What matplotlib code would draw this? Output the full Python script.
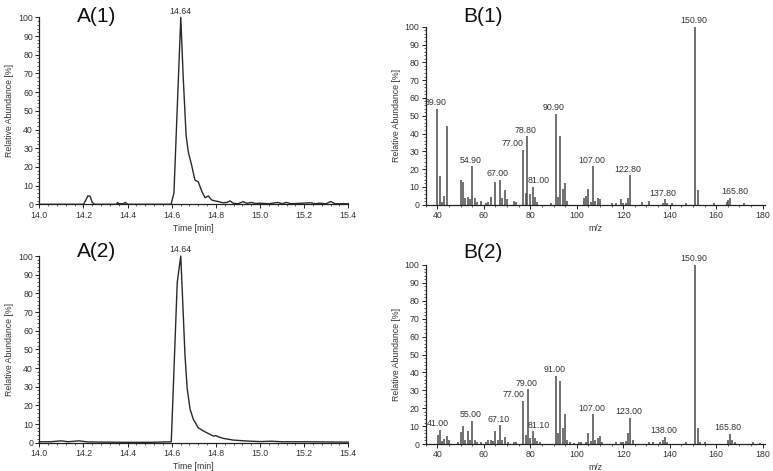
import matplotlib
matplotlib.use('Agg')
import matplotlib.pyplot as plt
from matplotlib.ticker import MultipleLocator

plt.rcParams['font.family'] = ['Liberation Sans', 'DejaVu Sans']

# ---------------- data ----------------
a1_time = [14.00, 14.20, 14.21, 14.22, 14.23, 14.24, 14.25, 14.35, 14.355, 14.36, 14.38, 14.39, 14.40,
           14.597, 14.61, 14.641, 14.652, 14.665, 14.675, 14.69, 14.705, 14.72, 14.736, 14.751, 14.766,
           14.781, 14.796, 14.81, 14.833, 14.85, 14.864, 14.88, 14.90, 14.924, 14.94, 14.96, 14.98, 15.00,
           15.04, 15.08, 15.10, 15.12, 15.14, 15.23, 15.25, 15.27, 15.30, 15.32, 15.34, 15.40]
a1_abund = [0, 0, 2, 4.5, 4.3, 1, 0, 0, 1, 0.3, 0.3, 1, 0,
            0, 6, 100, 68, 37, 28, 21, 13, 12, 7, 3.5, 4.5,
            2.3, 1.8, 1.5, 0.8, 1, 1.8, 0.5, 0.3, 1.4, 0.5, 1, 0.4, 0.6,
            0.3, 1, 0.3, 1, 0.3, 0.8, 0.3, 0.6, 0.3, 1.5, 0.3, 0.3]

a2_time = [14.00, 14.05, 14.10, 14.13, 14.18, 14.22, 14.30, 14.40, 14.50, 14.598, 14.625, 14.641,
           14.66, 14.67, 14.683, 14.698, 14.72, 14.743, 14.773, 14.79, 14.80, 14.815, 14.834, 14.879,
           14.94, 15.00, 15.05, 15.10, 15.20, 15.30, 15.40]
a2_abund = [0.5, 0.5, 1, 0.5, 1, 0.4, 0.3, 0.2, 0.2, 0.5, 86, 100,
            47, 29, 18, 12.5, 8, 6.3, 4.5, 3.5, 3.8, 3.0, 2.3, 1.4,
            0.9, 0.6, 0.8, 0.5, 0.5, 0.4, 0.3]

b1_mz = [39.9, 41.0, 42.0, 43.0, 44.0, 50.0, 51.0, 52.0, 53.0, 54.0, 54.9, 56.0, 57.0, 59.0, 61.0,
         62.0, 63.0, 65.0, 67.0, 68.0, 69.0, 70.0, 73.0, 74.0, 77.0, 78.0, 78.8, 80.0, 81.0, 82.0,
         83.0, 89.0, 90.9, 92.0, 92.9, 94.0, 95.0, 96.0, 103.0, 104.0, 105.0, 106.0, 107.0, 108.0,
         109.0, 110.0, 115.0, 117.0, 119.0, 120.0, 121.0, 122.0, 122.8, 128.0, 131.0, 137.0, 137.8,
         139.0, 141.0, 147.0, 150.9, 152.0, 159.0, 164.8, 165.2, 165.8, 172.0]
b1_int = [54, 16, 1.5, 5, 44, 14, 12.5, 4, 4.5, 3, 21.5, 4, 1.5, 2, 1,
          1.5, 4.5, 12.5, 14, 4, 8, 3, 2, 1.5, 31, 6.5, 38.5, 6, 10, 4.5,
          1.5, 1, 51, 4.5, 38.5, 9, 12, 2, 3.5, 5, 9, 1.5, 21.5, 2,
          3.5, 3, 1, 1, 3, 1, 1, 4, 16.5, 1.5, 2, 1, 3,
          1, 1, 1, 100, 8, 1, 1.5, 2.5, 4, 1]
b1_labels = ['39.90', '54.90', '67.00', '77.00', '78.80', '81.00', '90.90', '107.00',
             '122.80', '137.80', '150.90', '165.80']
b1_label_mz = [39.9, 54.9, 67.0, 77.0, 78.8, 81.0, 90.9, 107.0, 122.8, 137.8, 150.9, 165.8]

b2_mz = [40.1, 41.0, 42.0, 43.0, 44.0, 45.0, 49.0, 50.0, 51.0, 52.0, 53.0, 54.0, 55.0, 56.0, 57.0,
         59.0, 61.0, 62.0, 63.0, 64.0, 65.0, 66.0, 67.1, 68.0, 69.0, 70.3, 73.0, 74.0, 77.0, 78.0,
         79.0, 80.0, 81.1, 82.0, 83.0, 84.0, 91.0, 92.0, 93.0, 94.0, 95.0, 96.0, 97.0, 99.0, 101.0,
         102.0, 104.0, 105.0, 106.0, 107.0, 108.0, 109.0, 110.0, 111.0, 117.0, 119.0, 120.0, 121.0,
         122.0, 123.0, 124.0, 131.0, 133.0, 136.0, 137.0, 138.0, 139.0, 147.0, 150.9, 152.0, 153.0,
         155.0, 165.0, 165.8, 167.0, 168.0, 175.7, 178.7]
b2_int = [5, 8, 1.5, 3, 4.5, 2, 1, 6.5, 10, 2.5, 7, 2.5, 13, 2, 1,
          1, 1, 2, 2.5, 1.5, 7.5, 2, 10.5, 2, 4, 1, 1, 1, 24, 5,
          30.5, 3.5, 7, 3.5, 1.5, 1, 38, 6, 35, 9, 16.5, 2, 1, 0.5, 1,
          1, 1, 6, 1.5, 16.5, 2, 3.5, 4.5, 1, 1, 1, 1, 1.5,
          6, 14.5, 2, 1, 1, 1, 2, 4, 1, 1, 100, 9, 1,
          1, 2, 5.5, 2.5, 1, 1, 0.5]
b2_labels = ['41.00', '55.00', '67.10', '77.00', '79.00', '81.10', '91.00', '107.00',
             '123.00', '138.00', '150.90', '165.80']
b2_label_mz = [41.0, 55.0, 67.1, 77.0, 79.0, 81.1, 91.0, 107.0, 123.0, 138.0, 150.9, 165.8]

peak_label = '14.64'
peak_time = 14.641

# ---------------- layout ----------------
W, H = 773, 471
fig = plt.figure(figsize=(W / 100, H / 100), dpi=100)


def px_axes(left, top, right, bottom):
    return fig.add_axes([left / W, 1 - bottom / H, (right - left) / W, (bottom - top) / H])


TXT = '#333333'
FS = 6.3


def style(ax, xlabel):
    for s in ('top', 'right'):
        ax.spines[s].set_visible(False)
    for s in ('left', 'bottom'):
        ax.spines[s].set_color('#222222')
        ax.spines[s].set_linewidth(0.9)
    ax.set_ylim(0, 100)
    ax.yaxis.set_major_locator(MultipleLocator(10))
    ax.yaxis.set_minor_locator(MultipleLocator(2))
    ax.tick_params(which='major', direction='out', length=3, width=0.7, colors='#222222',
                   labelsize=FS, labelcolor=TXT, pad=1.5)
    ax.tick_params(which='minor', direction='out', length=1.6, width=0.5, colors='#222222')
    ax.set_ylabel('Relative Abundance [%]', fontsize=FS, color=TXT, labelpad=3)
    ax.set_xlabel(xlabel, fontsize=FS, color=TXT, labelpad=3)
    ax.patch.set_alpha(0)


def chrom(ax, t, y):
    ax.plot(t, y, color='#2a2a2a', lw=1.0, clip_on=False)
    ax.set_xlim(14.0, 15.4)
    ax.xaxis.set_major_locator(MultipleLocator(0.2))
    ax.xaxis.set_minor_locator(MultipleLocator(0.04))
    ax.set_xticks([14.0, 14.2, 14.4, 14.6, 14.8, 15.0, 15.2, 15.4])
    ax.set_xticklabels(['14.0', '14.2', '14.4', '14.6', '14.8', '15.0', '15.2', '15.4'])
    style(ax, 'Time [min]')
    ax.annotate(peak_label, (peak_time, 100), xytext=(0, 1.2), textcoords='offset points',
                ha='center', va='bottom', fontsize=FS, color=TXT, annotation_clip=False)


label_shift_1 = {'67.00': -1.1, '77.00': -4.5, '81.00': 2.6, '165.80': 2.4}
label_shift_2 = {'77.00': -4.4, '81.10': 2.4}


def spectrum(ax, mz, inten, labels, label_mz, shifts):
    ax.vlines(mz, 0, inten, color='#4a4a4a', lw=1.1)
    ax.set_xlim(35, 181)
    ax.xaxis.set_major_locator(MultipleLocator(20))
    ax.xaxis.set_minor_locator(MultipleLocator(5))
    style(ax, 'm/z')
    lookup = dict(zip(mz, inten))
    for lab, m in zip(labels, label_mz):
        x = m + shifts.get(lab, -0.7)
        ax.annotate(lab, (x, lookup[m]), xytext=(0, 1.2), textcoords='offset points',
                    ha='center', va='bottom', fontsize=FS, color=TXT, annotation_clip=False)


ax_a1 = px_axes(39.3, 17.3, 348.3, 204.3)
chrom(ax_a1, a1_time, a1_abund)
ax_a2 = px_axes(39.3, 256.0, 348.3, 442.7)
chrom(ax_a2, a2_time, a2_abund)

ax_b1 = px_axes(425.7, 26.7, 765.0, 204.7)
spectrum(ax_b1, b1_mz, b1_int, b1_labels, b1_label_mz, label_shift_1)
ax_b2 = px_axes(425.7, 265.0, 765.0, 444.0)
spectrum(ax_b2, b2_mz, b2_int, b2_labels, b2_label_mz, label_shift_2)

# panel titles
for txt, x, y in [('A(1)', 77, 22), ('B(1)', 463, 22), ('A(2)', 77, 257), ('B(2)', 463, 258)]:
    fig.text(x / W, 1 - y / H, txt, fontsize=15, color='#111111', ha='left', va='baseline')

fig.savefig('out.png', dpi=100)
